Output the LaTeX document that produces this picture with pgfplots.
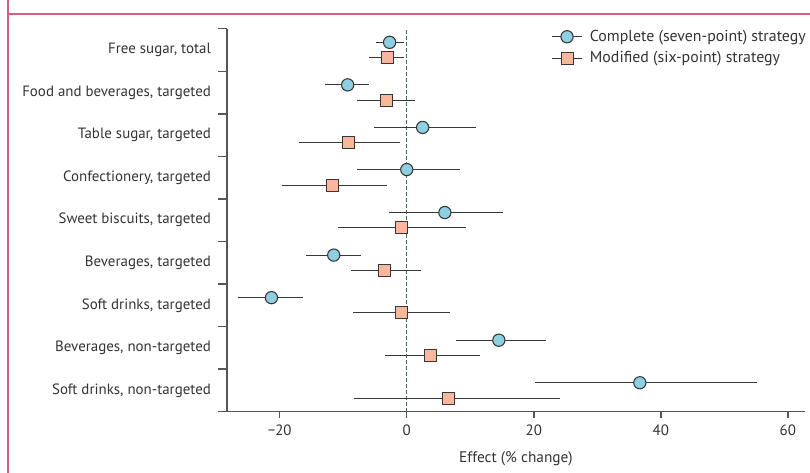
\documentclass[border=0pt]{standalone}
\usepackage{pgfplots}
\pgfplotsset{compat=1.18}
\usepackage{pgfplotstable}
\usepackage{fontspec}
\setmainfont{PT Sans}

\definecolor{frame}{RGB}{214,92,132}
\definecolor{cblue}{RGB}{142,207,226}
\definecolor{corange}{RGB}{250,183,155}
\definecolor{lgray}{RGB}{55,55,55}
\definecolor{agray}{RGB}{85,85,85}
\definecolor{zline}{RGB}{70,100,115}

% y, estimate, lower, upper
\pgfplotstableread{
y     x     lo     hi
8.18  -2.7  -4.9   -0.4
7.18  -9.3  -12.9  -5.9
6.18   2.5  -5.1   10.9
5.19   0.0  -7.8   8.4
4.18   6.0  -2.8   15.1
3.18  -11.5 -15.9  -7.2
2.18  -21.3 -26.5  -16.3
1.18   14.5  7.8   22.0
0.18   36.7  20.2  55.1
}\complete
\pgfplotstableread{
y     x     lo     hi
7.82  -3.1  -6.0   -0.4
6.82  -3.2  -7.8   1.3
5.82  -9.2  -16.9  -1.1
4.82  -11.7 -19.6  -3.1
3.82  -0.9  -10.8  9.4
2.82  -3.5  -8.8   2.2
1.83  -0.9  -8.4   6.8
0.82   3.8  -3.5   11.5
-0.18  6.6  -8.3   24.1
}\modified

\begin{document}
\begin{tikzpicture}
\useasboundingbox (0,0) rectangle (607.5pt,354.75pt);
\draw[frame,line width=1pt] (6pt,360pt) -- (6pt,344.25pt) -- (620pt,344.25pt);
\draw[frame,line width=1pt] (6pt,344.25pt) -- (6pt,-10pt);
\begin{axis}[
    at={(170.25pt,45.975pt)}, anchor=south west,
    scale only axis,
    width=433.5pt, height=287.25pt,
    xmin=-28.3, xmax=62.7,
    ymin=-0.5, ymax=8.5,
    axis lines*=left,
    axis line style={agray, line width=1.1pt},
    every tick/.style={agray, line width=1.1pt},
    tick align=outside,
    major tick length=5pt,
    minor tick length=6.5pt,
    xtick={-20,0,20,40,60},
    xticklabels={−20,0,20,40,60},
    ytick={0,1,...,8},
    yticklabels={Soft drinks{,} non-targeted, Beverages{,} non-targeted, Soft drinks{,} targeted, Beverages{,} targeted, Sweet biscuits{,} targeted, Confectionery{,} targeted, Table sugar{,} targeted, Food and beverages{,} targeted, Free sugar{,} total},
    every major y tick/.style={draw=none},
    minor ytick={-0.5,0.5,...,8.5},
    yticklabel style={xshift=-3.5pt},
    tick label style={font=\fontsize{11.2}{13}\selectfont, text=black!80},
    xticklabel style={yshift=-1.5pt},
    xlabel={Effect (\% change)},
    xlabel style={font=\fontsize{11.5}{13}\selectfont, text=black!80, yshift=-5pt},
    clip=false,
    legend style={at={(rel axis cs:0.561,1.004)}, anchor=north west, draw=none, fill=none,
        text=black!80, row sep=2pt, inner sep=0pt,
        nodes={font=\fontsize{11.9}{13.5}\selectfont, inner xsep=5.5pt},
        legend cell align=left},
    legend image code/.code={
        \draw[lgray, line width=0.8pt] (0pt,0pt) -- (22.5pt,0pt);
        \draw[#1] plot coordinates {(11.25pt,0pt)};
    },
]
\addplot[zline, dashed, line width=0.8pt, dash pattern=on 2.5pt off 2pt, forget plot]
    coordinates {(0,-0.5) (0,8.5)};
\addplot[only marks, mark=*, mark size=4.6pt,
    mark options={fill=cblue, draw=lgray, line width=0.8pt},
    error bars/.cd, x dir=both, x explicit, error mark=none,
    error bar style={lgray, line width=0.8pt}]
    table[x=x, y=y, x error plus expr=\thisrow{hi}-\thisrow{x},
          x error minus expr=\thisrow{x}-\thisrow{lo}] {\complete};
\addplot[only marks, mark=square*, mark size=4.5pt,
    mark options={fill=corange, draw=lgray, line width=0.8pt},
    error bars/.cd, x dir=both, x explicit, error mark=none,
    error bar style={lgray, line width=0.8pt}]
    table[x=x, y=y, x error plus expr=\thisrow{hi}-\thisrow{x},
          x error minus expr=\thisrow{x}-\thisrow{lo}] {\modified};
\legend{Complete (seven-point) strategy, Modified (six-point) strategy}
\end{axis}
\end{tikzpicture}
\end{document}
